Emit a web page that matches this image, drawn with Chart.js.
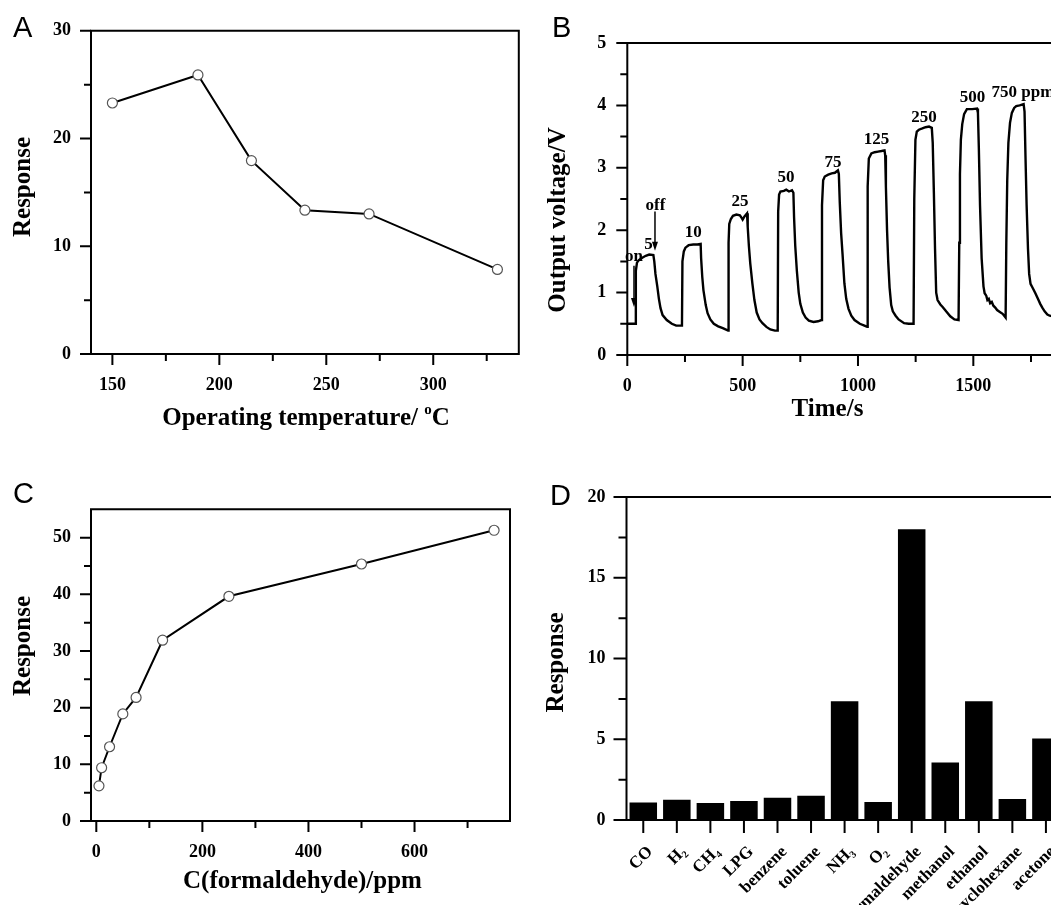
<!DOCTYPE html>
<html><head><meta charset="utf-8">
<script src="https://cdn.jsdelivr.net/npm/chart.js@4/dist/chart.umd.min.js"></script>
<style>
html,body{margin:0;padding:0;background:#fff;}
#wrap{position:relative;width:1051px;height:905px;overflow:hidden;background:#fff;}
canvas{position:absolute;}
</style></head><body><div id="wrap">
<canvas id="cA" width="525" height="440" style="left:0;top:0"></canvas>
<canvas id="cB" width="600" height="440" style="left:525px;top:0"></canvas>
<canvas id="cC" width="525" height="465" style="left:0;top:440px"></canvas>
<canvas id="cD" width="600" height="520" style="left:525px;top:440px"></canvas>
</div>
<script>
// ---------- Panel A: response vs operating temperature ----------
const tempC = [150, 190, 215, 240, 270, 330];
const tempResponse = [23.3, 25.9, 17.95, 13.35, 13.0, 7.85];
const aXTicks = [150, 200, 250, 300];
const aXMinor = [175, 225, 275, 325];
const aYTicks = [0, 10, 20, 30];
const aYMinor = [5, 15, 25];

// ---------- Panel B: output voltage transient ----------
const timeS = [0,35,37,42,50,65,80,95,113,117,122,130,137,144,153,171,193,212,237,
 239,245,252,266,286,304,318,320,325,330,340,348,360,375,394,414,437,
 439,442,449,458,473,488,495,500,508,519,522,527,533,542,551,561,573,586,603,620,640,652,
 654,658,664,679,689,701,714,720,723,728,735,743,750,761,773,787,807,827,842,
 844,849,856,871,886,900,913,917,921,927,933,941,949,959,971,985,1008,1028,1040,
 1042,1047,1058,1072,1087,1102,1115,1118,1121,1126,1131,1137,1144,1151,1163,1176,1200,1220,1241,
 1244,1249,1255,1264,1279,1293,1308,1320,1324,1329,1334,1339,1345,1357,1367,1382,1400,1418,1436,
 1439,1442,1446,1452,1460,1472,1495,1516,1520,1524,1529,1536,1544,1549,1556,1561,1567,1573,1580,1587,1595,1603,1615,1627,1640,
 1643,1647,1652,1659,1667,1677,1686,1701,1718,1722,1726,1731,1737,1742,1748,1758,1769,1780,1790,1799,1809,1821,1831,1844];
const voltage = [0.50,0.50,1.35,1.48,1.52,1.56,1.59,1.61,1.60,1.50,1.30,1.10,0.90,0.75,0.64,0.56,0.50,0.47,0.47,
 1.50,1.66,1.72,1.76,1.77,1.77,1.78,1.55,1.25,1.04,0.80,0.67,0.57,0.50,0.46,0.43,0.39,
 1.80,2.10,2.18,2.23,2.25,2.24,2.20,2.17,2.22,2.27,2.05,1.75,1.47,1.15,0.88,0.68,0.57,0.51,0.45,0.41,0.39,0.39,
 2.30,2.57,2.62,2.63,2.65,2.62,2.64,2.60,2.20,1.75,1.35,1.00,0.82,0.68,0.60,0.55,0.53,0.54,0.56,
 2.40,2.80,2.86,2.89,2.91,2.92,2.96,2.90,2.45,1.95,1.62,1.15,0.90,0.74,0.63,0.56,0.50,0.47,0.45,
 2.70,3.15,3.23,3.25,3.26,3.27,3.28,3.20,2.70,2.00,1.50,1.08,0.80,0.70,0.63,0.57,0.51,0.50,0.50,
 2.50,3.45,3.58,3.61,3.63,3.65,3.66,3.64,3.40,2.60,1.70,1.00,0.88,0.81,0.77,0.70,0.62,0.57,0.56,
 1.80,2.90,3.45,3.70,3.86,3.94,3.94,3.95,3.88,3.30,2.40,1.55,1.10,0.99,0.95,0.88,0.90,0.83,0.85,0.79,0.76,0.72,0.69,0.66,0.60,
 1.80,2.80,3.40,3.72,3.88,3.96,3.99,4.00,4.02,3.90,3.20,2.40,1.70,1.30,1.14,1.07,0.99,0.90,0.82,0.76,0.70,0.65,0.63,0.62];
const bXTicks = [0, 500, 1000, 1500];
const bXMinor = [250, 750, 1250, 1750];
const bYTicks = [0, 1, 2, 3, 4, 5];
const bYMinor = [0.5, 1.5, 2.5, 3.5, 4.5];
const bNotes  = ['on', 'off', '5', '10', '25', '50', '75', '125', '250', '500', '750 ppm'];
const bNoteT  = [29, 122, 92, 286, 489, 688, 892, 1080, 1286, 1496, 1715];
const bNoteV  = [1.50, 2.32, 1.70, 1.89, 2.38, 2.78, 3.02, 3.38, 3.74, 4.06, 4.14];
const bArrowT = [29, 120];
const bArrowFromV = [1.43, 2.30];
const bArrowToV = [0.77, 1.67];

// ---------- Panel C: response vs formaldehyde concentration ----------
const concPpm = [5, 10, 25, 50, 75, 125, 250, 500, 750];
const concResponse = [6.2, 9.4, 13.1, 18.9, 21.8, 31.9, 39.65, 45.35, 51.3];
const cXTicks = [0, 200, 400, 600];
const cXMinor = [100, 300, 500, 700];
const cYTicks = [0, 10, 20, 30, 40, 50];
const cYMinor = [5, 15, 25, 35, 45];

// ---------- Panel D: selectivity ----------
const gases = ['CO', 'H₂', 'CH₄', 'LPG', 'benzene', 'toluene', 'NH₃', 'O₂', 'formaldehyde', 'methanol', 'ethanol', 'cyclohexane', 'acetone'];
const gasResponse = [1.09, 1.25, 1.05, 1.17, 1.38, 1.50, 7.36, 1.11, 18.0, 3.56, 7.35, 1.30, 5.04];
const dYTicks = [0, 5, 10, 15, 20];
const dYMinor = [2.5, 7.5, 12.5, 17.5];

// ---------- helpers ----------
const SERIF = '"Liberation Serif", "Times New Roman", serif';
const SANS = '"Liberation Sans", Arial, sans-serif';
Chart.defaults.font.family = SERIF;
Chart.defaults.color = '#000';

function drawRich(ctx, segs, x, y, rot, align) {
  ctx.save();
  ctx.translate(x, y);
  if (rot) ctx.rotate(rot);
  let total = 0;
  segs.forEach(s => { ctx.font = s.font; s.w = ctx.measureText(s.t).width; total += s.w; });
  let cx = align === 'left' ? 0 : -total / 2;
  ctx.textAlign = 'left'; ctx.textBaseline = 'alphabetic'; ctx.fillStyle = '#000';
  segs.forEach(s => { ctx.font = s.font; ctx.fillText(s.t, cx, s.dy || 0); cx += s.w; });
  ctx.restore();
}
const tf = sz => `bold ${sz}px ${SERIF}`;

const framePlugin = {
  id: 'frame',
  afterDraw(chart, args, o) {
    const ctx = chart.ctx, ca = chart.chartArea, xs = chart.scales.x, ys = chart.scales.y;
    ctx.save();
    ctx.strokeStyle = '#000';
    ctx.lineWidth = 2;
    ctx.lineCap = 'square';
    ctx.beginPath();
    if (o.sides.includes('left')) { ctx.moveTo(ca.left, ca.top); ctx.lineTo(ca.left, ca.bottom); }
    if (o.sides.includes('bottom')) { ctx.moveTo(ca.left, ca.bottom); ctx.lineTo(ca.right, ca.bottom); }
    if (o.sides.includes('top')) { ctx.moveTo(ca.left, ca.top); ctx.lineTo(ca.right, ca.top); }
    if (o.sides.includes('right')) { ctx.moveTo(ca.right, ca.top); ctx.lineTo(ca.right, ca.bottom); }
    ctx.stroke();
    ctx.lineCap = 'butt';
    ctx.beginPath();
    (o.xMajor || []).forEach(v => { const p = xs.getPixelForValue(v); ctx.moveTo(p, ca.bottom); ctx.lineTo(p, ca.bottom + o.majorLen); });
    (o.xMinor || []).forEach(v => { const p = xs.getPixelForValue(v); ctx.moveTo(p, ca.bottom); ctx.lineTo(p, ca.bottom + o.minorLen); });
    (o.yMajor || []).forEach(v => { const p = ys.getPixelForValue(v); ctx.moveTo(ca.left, p); ctx.lineTo(ca.left - o.majorLen, p); });
    (o.yMinor || []).forEach(v => { const p = ys.getPixelForValue(v); ctx.moveTo(ca.left, p); ctx.lineTo(ca.left - o.minorLen, p); });
    ctx.stroke();
    (o.texts || []).forEach(t => drawRich(ctx, t.segs, t.x, t.y, t.rot, t.align));
    ctx.restore();
  }
};

const notesPlugin = {
  id: 'notes',
  afterDraw(chart, args, o) {
    if (!o.enabled) return;
    const ctx = chart.ctx, xs = chart.scales.x, ys = chart.scales.y;
    ctx.save();
    ctx.fillStyle = '#000';
    ctx.font = tf(17);
    ctx.textAlign = 'center';
    ctx.textBaseline = 'alphabetic';
    bNotes.forEach((s, i) => ctx.fillText(s, xs.getPixelForValue(bNoteT[i]), ys.getPixelForValue(bNoteV[i])));
    ctx.strokeStyle = '#000';
    ctx.lineWidth = 1.5;
    bArrowT.forEach((t, i) => {
      const x = xs.getPixelForValue(t), y0 = ys.getPixelForValue(bArrowFromV[i]), y1 = ys.getPixelForValue(bArrowToV[i]);
      ctx.beginPath(); ctx.moveTo(x, y0); ctx.lineTo(x, y1 - 6); ctx.stroke();
      ctx.beginPath(); ctx.moveTo(x, y1); ctx.lineTo(x - 3, y1 - 9); ctx.lineTo(x + 3, y1 - 9); ctx.closePath(); ctx.fill();
    });
    ctx.restore();
  }
};
Chart.register(framePlugin, notesPlugin);

function linAxis(min, max, ticks, pad, fit, horizontal) {
  return {
    type: 'linear', min, max,
    grid: { display: false, drawTicks: false },
    border: { display: false },
    afterBuildTicks: s => { s.ticks = ticks.map(v => ({ value: v })); },
    afterFit: s => { if (horizontal) s.height = fit; else s.width = fit; },
    ticks: { font: { size: 18, weight: 'bold', family: SERIF }, color: '#000', padding: pad,
             maxRotation: 0, autoSkip: false, callback: v => String(v) }
  };
}

function lineOpts(cfg) {
  return {
    responsive: false, animation: false, events: [],
    layout: { padding: { top: cfg.padTop, right: cfg.padRight, left: 0, bottom: 0 } },
    plugins: { legend: { display: false }, tooltip: { enabled: false }, frame: cfg.frame, notes: { enabled: !!cfg.notes } },
    scales: { x: cfg.x, y: cfg.y }
  };
}

const markerDs = (xs, ys) => ({
  data: xs.map((x, i) => ({ x, y: ys[i] })),
  borderColor: '#000', borderWidth: 2, tension: 0,
  pointRadius: 5, pointBackgroundColor: '#fff', pointBorderColor: '#555', pointBorderWidth: 1.2
});

// Panel A
new Chart(document.getElementById('cA'), {
  type: 'line',
  data: { datasets: [markerDs(tempC, tempResponse)] },
  options: lineOpts({
    padTop: 30, padRight: 5,
    x: linAxis(140, 340, aXTicks, 21, 86, true),
    y: linAxis(0, 30, aYTicks, 20, 91, false),
    frame: { sides: ['left', 'bottom', 'top', 'right'], xMajor: aXTicks, xMinor: aXMinor, yMajor: aYTicks, yMinor: aYMinor, majorLen: 11, minorLen: 7,
      texts: [
        { segs: [{ t: 'A', font: `29px ${SANS}` }], x: 13, y: 37, align: 'left' },
        { segs: [{ t: 'Response', font: tf(25) }], x: 29.5, y: 187, rot: -Math.PI / 2 },
        { segs: [{ t: 'Operating temperature/ ', font: tf(25) }, { t: 'o', font: tf(15), dy: -11 }, { t: 'C', font: tf(25) }], x: 306, y: 425 }
      ] }
  })
});

// Panel B
new Chart(document.getElementById('cB'), {
  type: 'line',
  data: { datasets: [{ data: timeS.map((t, i) => ({ x: t, y: voltage[i] })), borderColor: '#000', borderWidth: 2.4, pointRadius: 0, tension: 0 }] },
  options: lineOpts({
    padTop: 43, padRight: 59.4, notes: true,
    x: linAxis(0, 1900, bXTicks, 21, 85, true),
    y: linAxis(0, 5, bYTicks, 21, 102.3, false),
    frame: { sides: ['left', 'bottom', 'top'], xMajor: bXTicks, xMinor: bXMinor, yMajor: bYTicks, yMinor: bYMinor, majorLen: 11, minorLen: 7,
      texts: [
        { segs: [{ t: 'B', font: `29px ${SANS}` }], x: 27, y: 37, align: 'left' },
        { segs: [{ t: 'Output voltage/V', font: tf(25) }], x: 39.5, y: 220, rot: -Math.PI / 2 },
        { segs: [{ t: 'Time/s', font: tf(25) }], x: 302.5, y: 416 }
      ] }
  })
});

// Panel C
new Chart(document.getElementById('cC'), {
  type: 'line',
  data: { datasets: [markerDs(concPpm, concResponse)] },
  options: lineOpts({
    padTop: 69.3, padRight: 15,
    x: linAxis(-10, 780, cXTicks, 21, 84, true),
    y: linAxis(0, 55, cYTicks, 20, 91, false),
    frame: { sides: ['left', 'bottom', 'top', 'right'], xMajor: cXTicks, xMinor: cXMinor, yMajor: cYTicks, yMinor: cYMinor, majorLen: 11, minorLen: 7,
      texts: [
        { segs: [{ t: 'C', font: `29px ${SANS}` }], x: 13, y: 63, align: 'left' },
        { segs: [{ t: 'Response', font: tf(25) }], x: 29.5, y: 206, rot: -Math.PI / 2 },
        { segs: [{ t: 'C(formaldehyde)/ppm', font: tf(25) }], x: 302.5, y: 448 }
      ] }
  })
});

// Panel D
new Chart(document.getElementById('cD'), {
  type: 'bar',
  data: { labels: gases, datasets: [{ data: gasResponse, backgroundColor: '#000', borderWidth: 0, categoryPercentage: 1, barPercentage: 0.82 }] },
  options: {
    responsive: false, animation: false, events: [],
    layout: { padding: { top: 57, right: 62.3, left: 0, bottom: 0 } },
    plugins: { legend: { display: false }, tooltip: { enabled: false },
      frame: { sides: ['left', 'bottom', 'top'], xMajor: gases.map((g, i) => i), yMajor: dYTicks, yMinor: dYMinor, majorLen: 13, minorLen: 8,
        texts: [
          { segs: [{ t: 'D', font: `29px ${SANS}` }], x: 25, y: 65, align: 'left' },
          { segs: [{ t: 'Response', font: tf(25) }], x: 38, y: 222.5, rot: -Math.PI / 2 }
        ] },
      notes: { enabled: false } },
    scales: {
      x: { type: 'category', offset: true, grid: { display: false, drawTicks: false }, border: { display: false },
           afterFit: s => { s.height = 140; },
           ticks: { font: { size: 17, weight: 'bold', family: SERIF }, color: '#000', padding: 22, labelOffset: 7,
                    minRotation: 45, maxRotation: 45, autoSkip: false } },
      y: linAxis(0, 20, dYTicks, 21, 101.5, false)
    }
  }
});
</script></body></html>
